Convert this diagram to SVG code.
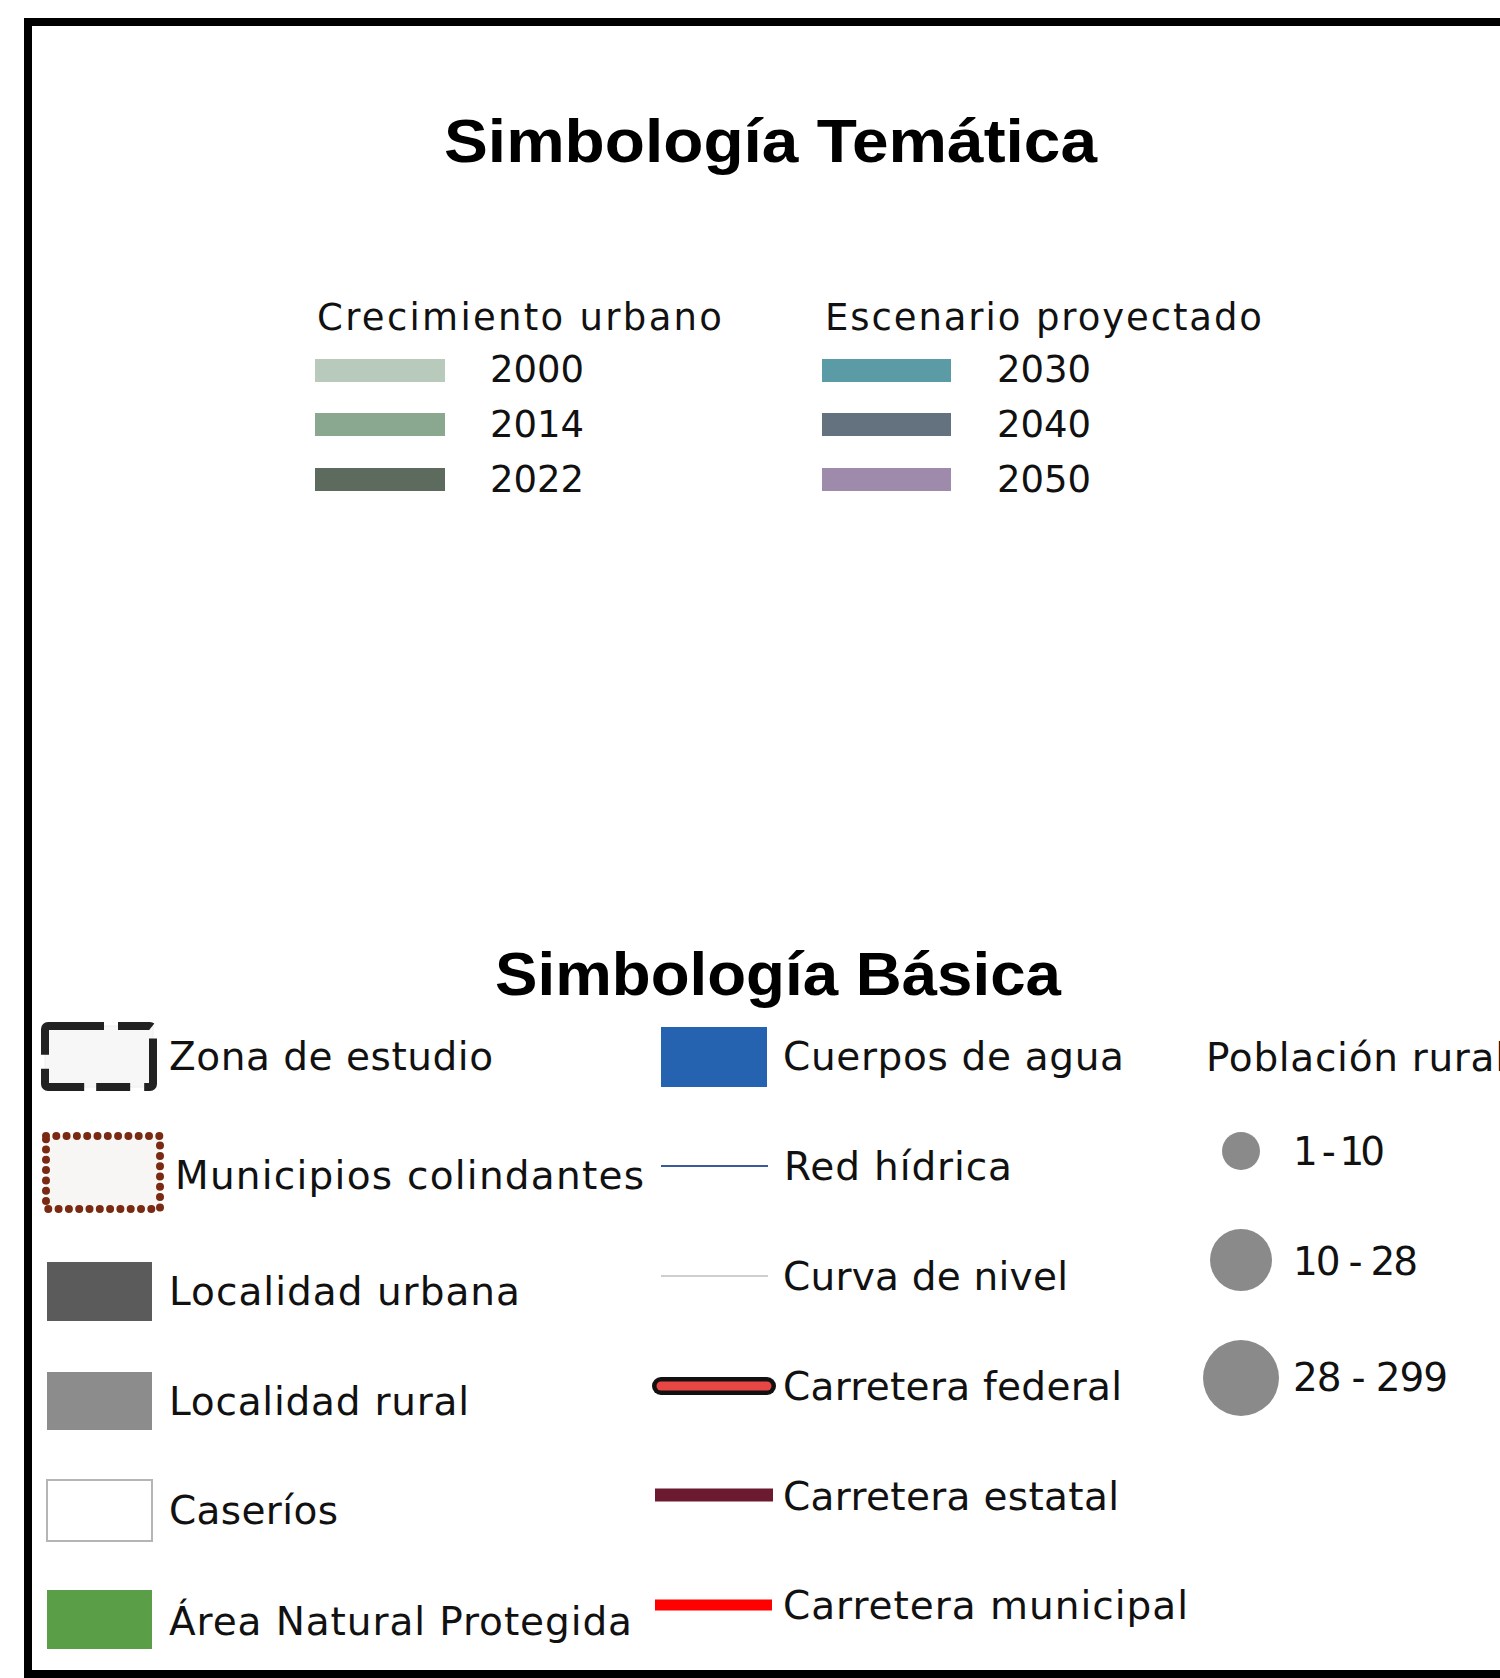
<svg xmlns="http://www.w3.org/2000/svg" width="1500" height="1678" viewBox="0 0 1500 1678">
<style>
.title{font-family:"Liberation Sans",Arial,sans-serif;font-weight:bold;font-size:62px;fill:#000}
.lbl{font-family:"DejaVu Sans","Noto Sans",sans-serif;font-size:39px;fill:#111}
.tl{font-family:"DejaVu Sans","Noto Sans",sans-serif;font-size:37px;fill:#111}
.dot{fill:#8a8a8a}
</style>
<rect x="0" y="0" width="1500" height="1678" fill="#fff"/>
<rect id="frame" x="28" y="22" width="1520" height="1652" fill="#fff" stroke="#000" stroke-width="8"/>

<text class="title" x="444" y="162" textLength="653" lengthAdjust="spacingAndGlyphs">Simbología Temática</text>

<g id="crecimiento">
<text class="tl" x="317" y="330" textLength="405" lengthAdjust="spacing">Crecimiento urbano</text>
<rect x="315" y="359" width="130" height="23" fill="#b7cabb"/>
<text class="tl" x="490" y="382">2000</text>
<rect x="315" y="413" width="130" height="23" fill="#8aa78f"/>
<text class="tl" x="490" y="437">2014</text>
<rect x="315" y="468" width="130" height="23" fill="#5d6b5f"/>
<text class="tl" x="490" y="492">2022</text>
</g>

<g id="escenario">
<text class="tl" x="825" y="330" textLength="437" lengthAdjust="spacing">Escenario proyectado</text>
<rect x="822" y="359" width="129" height="23" fill="#5a9ba5"/>
<text class="tl" x="997" y="382">2030</text>
<rect x="822" y="413" width="129" height="23" fill="#64717f"/>
<text class="tl" x="997" y="437">2040</text>
<rect x="822" y="468" width="129" height="23" fill="#9e8aaa"/>
<text class="tl" x="997" y="492">2050</text>
</g>

<text class="title" x="495" y="995" textLength="566" lengthAdjust="spacingAndGlyphs">Simbología Básica</text>

<g id="zona-estudio">
<rect x="45" y="1026" width="108" height="61" fill="#f7f7f7" stroke="#eee" stroke-width="1"/>
<rect x="45" y="1026" width="108" height="61" rx="3" fill="none" stroke="#222" stroke-width="8" stroke-dasharray="56 14 34 12"/>
<text class="lbl" x="169" y="1070" textLength="324" lengthAdjust="spacing">Zona de estudio</text>
</g>
<g id="municipios">
<rect x="46" y="1136" width="114" height="73" fill="#f8f6f4" stroke="#7a2a12" stroke-width="8" stroke-linecap="round" stroke-dasharray="0 10.3"/>
<text class="lbl" x="175" y="1189" textLength="469" lengthAdjust="spacing">Municipios colindantes</text>
</g>
<g id="localidad-urbana">
<rect x="47" y="1262" width="105" height="59" fill="#5b5b5b"/>
<text class="lbl" x="169" y="1305" textLength="351" lengthAdjust="spacing">Localidad urbana</text>
</g>
<g id="localidad-rural">
<rect x="47" y="1372" width="105" height="58" fill="#8c8c8c"/>
<text class="lbl" x="169" y="1415" textLength="300" lengthAdjust="spacing">Localidad rural</text>
</g>
<g id="caserios">
<rect x="47" y="1480" width="105" height="61" fill="#fff" stroke="#b5b5b5" stroke-width="2"/>
<text class="lbl" x="169" y="1524" textLength="169" lengthAdjust="spacing">Caseríos</text>
</g>
<g id="anp">
<rect x="47" y="1590" width="105" height="59" fill="#5b9e48"/>
<text class="lbl" x="169" y="1635" textLength="463" lengthAdjust="spacing">Área Natural Protegida</text>
</g>

<g id="cuerpos-agua">
<rect x="661" y="1027" width="106" height="60" fill="#2563b0"/>
<text class="lbl" x="783" y="1070" textLength="341" lengthAdjust="spacing">Cuerpos de agua</text>
</g>
<g id="red-hidrica">
<line x1="661" y1="1166" x2="768" y2="1166" stroke="#3b5a9a" stroke-width="2"/>
<text class="lbl" x="784" y="1180" textLength="228" lengthAdjust="spacing">Red hídrica</text>
</g>
<g id="curva-nivel">
<line x1="661" y1="1276" x2="768" y2="1276" stroke="#cfcfcf" stroke-width="2"/>
<text class="lbl" x="783" y="1290" textLength="285" lengthAdjust="spacing">Curva de nivel</text>
</g>
<g id="carretera-federal">
<line x1="661" y1="1386" x2="767" y2="1386" stroke="#111" stroke-width="18" stroke-linecap="round"/>
<line x1="661" y1="1386" x2="767" y2="1386" stroke="#e84545" stroke-width="9" stroke-linecap="round"/>
<text class="lbl" x="783" y="1400" textLength="339" lengthAdjust="spacing">Carretera federal</text>
</g>
<g id="carretera-estatal">
<line x1="655" y1="1495" x2="773" y2="1495" stroke="#6b1a30" stroke-width="13"/>
<text class="lbl" x="783" y="1510" textLength="336" lengthAdjust="spacing">Carretera estatal</text>
</g>
<g id="carretera-municipal">
<line x1="655" y1="1605" x2="772" y2="1605" stroke="#ff0000" stroke-width="11"/>
<text class="lbl" x="783" y="1619" textLength="405" lengthAdjust="spacing">Carretera municipal</text>
</g>

<g id="poblacion-rural">
<text class="lbl" x="1206" y="1071" textLength="300" lengthAdjust="spacing">Población rural</text>
<circle class="dot" cx="1241" cy="1151" r="19"/>
<text class="lbl" x="1293" y="1165" textLength="92" lengthAdjust="spacing">1 - 10</text>
<circle class="dot" cx="1241" cy="1260" r="31"/>
<text class="lbl" x="1293" y="1275" textLength="125" lengthAdjust="spacing">10 - 28</text>
<circle class="dot" cx="1241" cy="1378" r="38"/>
<text class="lbl" x="1293" y="1391" textLength="155" lengthAdjust="spacing">28 - 299</text>
</g>
</svg>
